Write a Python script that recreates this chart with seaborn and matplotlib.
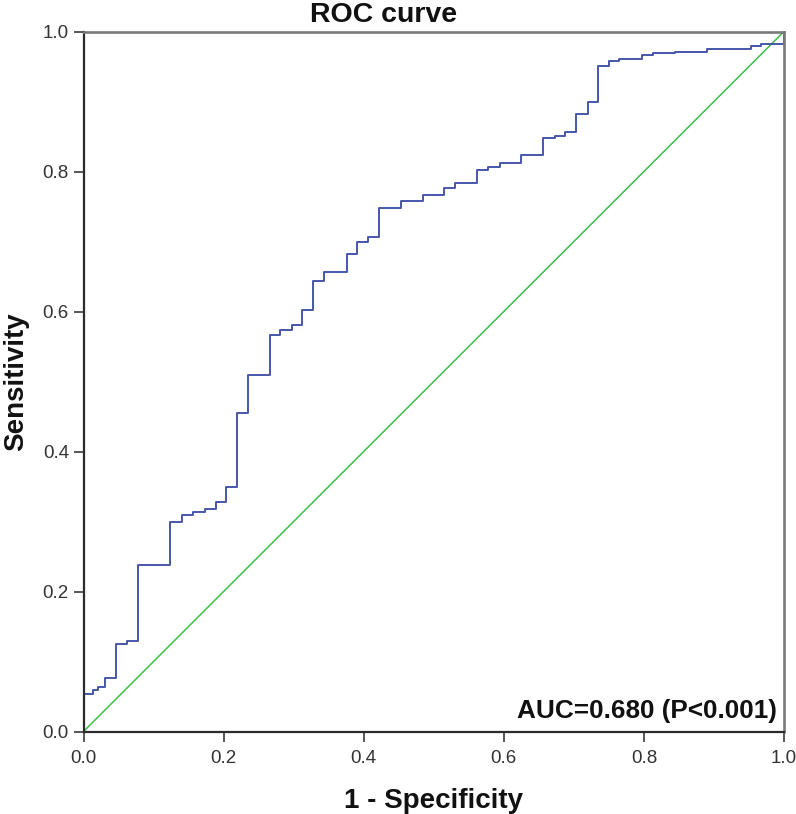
import numpy as np
import pandas as pd
import matplotlib
matplotlib.use("Agg")
import matplotlib.pyplot as plt
import seaborn as sns

# ROC corners (1 - specificity, sensitivity)
fpr = [0.0, 0.0, 0.014, 0.021, 0.031, 0.046, 0.062, 0.078, 0.124, 0.140,
       0.157, 0.173, 0.189, 0.203, 0.2185, 0.235, 0.266, 0.280, 0.297, 0.312,
       0.328, 0.3435, 0.3755, 0.391, 0.406, 0.422, 0.453, 0.484, 0.514, 0.531,
       0.562, 0.5775, 0.594, 0.625, 0.656, 0.673, 0.688, 0.7035, 0.720, 0.735,
       0.750, 0.765, 0.797, 0.813, 0.844, 0.890, 0.953, 0.9675, 1.0, 1.0]
tpr = [0.0, 0.054, 0.059, 0.064, 0.076, 0.125, 0.130, 0.238, 0.299, 0.310,
       0.314, 0.318, 0.328, 0.350, 0.455, 0.509, 0.567, 0.573, 0.581, 0.602,
       0.643, 0.657, 0.682, 0.700, 0.707, 0.748, 0.758, 0.767, 0.776, 0.783,
       0.802, 0.807, 0.812, 0.824, 0.848, 0.851, 0.857, 0.882, 0.900, 0.951,
       0.958, 0.961, 0.966, 0.969, 0.971, 0.975, 0.979, 0.982, 0.982, 1.0]
diag = [0.0, 1.0]
ticks = [0.0, 0.2, 0.4, 0.6, 0.8, 1.0]
auc_text = "AUC=0.680 (P<0.001)"

sns.set_style("white")
plt.rcParams['font.family'] = ['Liberation Sans', 'DejaVu Sans']

df = pd.DataFrame({'fpr': fpr, 'tpr': tpr})

fig = plt.figure(figsize=(7.96, 8.14), dpi=100)
ax = fig.add_axes([83.5 / 796, 82.5 / 814, 700.5 / 796, 700 / 814])

sns.lineplot(x=diag, y=diag, color='#3cbf4a', linewidth=1.1, ax=ax)
sns.lineplot(data=df, x='fpr', y='tpr', estimator=None, errorbar=None,
             drawstyle='steps-post', color='#4656a8', linewidth=1.4, ax=ax)

ax.set_xlim(0, 1)
ax.set_ylim(0, 1)
ax.set_xticks(ticks)
ax.set_yticks(ticks)
ax.set_xticklabels([f"{t:.1f}" for t in ticks])
ax.set_yticklabels([f"{t:.1f}" for t in ticks])
ax.tick_params(axis='both', direction='out', length=7.5, width=1.1,
               color='#2b2b2b', labelsize=13.5, labelcolor='#333333',
               bottom=True, left=True)
ax.tick_params(axis='x', pad=5.5)
ax.tick_params(axis='y', pad=3)

for side in ['left', 'bottom']:
    ax.spines[side].set_color('#2b2b2b')
    ax.spines[side].set_linewidth(1.6)
for side in ['top', 'right']:
    ax.spines[side].set_color('#7a7a7a')
    ax.spines[side].set_linewidth(1.9)

ax.set_xlabel("1 - Specificity", fontsize=20, fontweight='bold', color='#111111')
ax.set_ylabel("Sensitivity", fontsize=20, fontweight='bold', color='#111111')
ax.xaxis.set_label_coords(0.5, -0.08)
ax.yaxis.set_label_coords(-0.078, 0.5)

ax.text(0.99, 0.019, auc_text, transform=ax.transAxes, ha='right',
        va='baseline', fontsize=18.8, fontweight='bold', color='#111111')
fig.text(384 / 796, 1 - 22 / 814, "ROC curve", ha='center', va='baseline',
         fontsize=20.5, fontweight='bold', color='#111111')

fig.savefig("out.png", dpi=100)
